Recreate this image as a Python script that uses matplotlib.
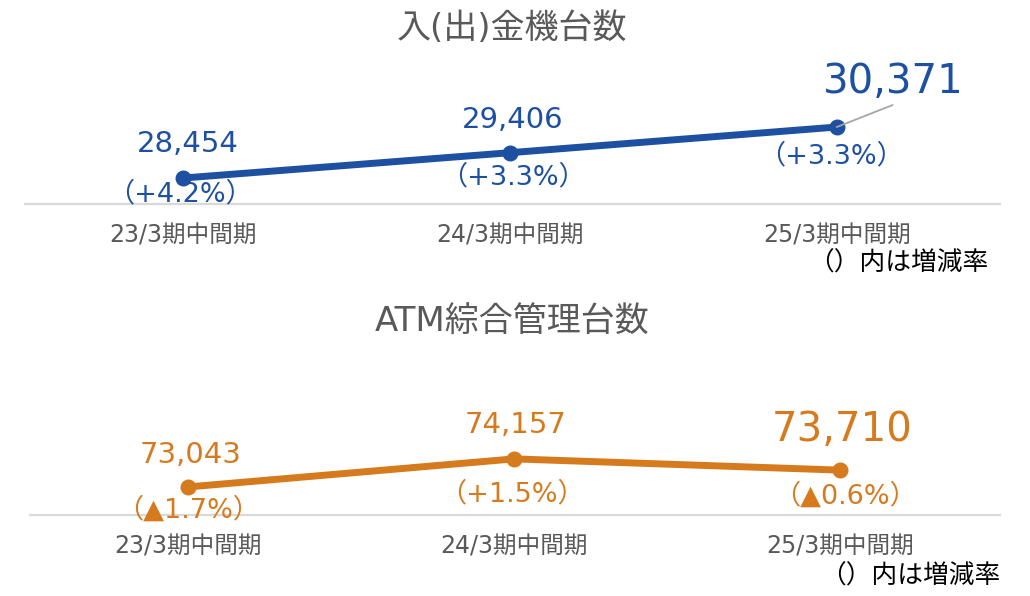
import matplotlib
matplotlib.use('Agg')
import matplotlib.pyplot as plt

plt.rcParams['font.family'] = ['DejaVu Sans', 'Noto Sans CJK JP']

# Data
periods = ['23/3期中間期', '24/3期中間期', '25/3期中間期']
deposit_units = [28454, 29406, 30371]
deposit_growth = ['（+4.2%）', '（+3.3%）', '（+3.3%）']
atm_units = [73043, 74157, 73710]
atm_growth = ['（▲1.7%）', '（+1.5%）', '（▲0.6%）']

blue = '#1E50A2'
orange = '#D67A1E'
gray_text = '#595959'
base_color = '#D9D9D9'

fig = plt.figure(figsize=(10.3, 5.96), dpi=100)

# Axes placement (figure fraction)
ax_top = fig.add_axes([25 / 1030, 1 - 204 / 596, 975 / 1030, 144 / 596])
ax_bot = fig.add_axes([30 / 1030, 1 - 515 / 596, 970 / 1030, 135 / 596])


def style_axes(ax, xlim, ylim):
    ax.set_xlim(*xlim)
    ax.set_ylim(*ylim)
    for s in ['top', 'right', 'left']:
        ax.spines[s].set_visible(False)
    ax.spines['bottom'].set_color(base_color)
    ax.spines['bottom'].set_linewidth(1.6)
    ax.set_yticks([])
    ax.set_xticks(range(len(periods)))
    ax.set_xticklabels(periods, fontsize=17, color=gray_text)
    ax.tick_params(axis='x', length=0, pad=14)
    ax.patch.set_alpha(0)


x = list(range(len(periods)))

# --- top chart: 入(出)金機台数
style_axes(ax_top, (-0.485, 2.5), (27477, 32891))
ax_top.plot(x, deposit_units, color=blue, lw=5, marker='o', ms=10.5,
            solid_capstyle='round', zorder=3)

val_offsets_top = [(4, 34), (3, 33)]
pct_offsets_top = [(-3, -16), (3, -25), (-6, -29)]
for i, v in enumerate(deposit_units[:2]):
    ax_top.annotate(f'{v:,}', (i, v), xytext=val_offsets_top[i],
                    textcoords='offset pixels', ha='center', va='center',
                    fontsize=21, color=blue)
ax_top.annotate(f'{deposit_units[2]:,}', (2, deposit_units[2]), xytext=(57, 45),
                textcoords='offset pixels', ha='center', va='center',
                fontsize=29, color=blue)
# leader line for the latest value
ax_top.annotate('', (2, deposit_units[2]), xytext=(56, 22),
                textcoords='offset pixels',
                arrowprops=dict(arrowstyle='-', color='#A6A6A6', lw=1.3,
                                shrinkA=0, shrinkB=0))
for i, v in enumerate(deposit_units):
    ax_top.annotate(deposit_growth[i], (i, v), xytext=pct_offsets_top[i],
                    textcoords='offset pixels', ha='center', va='center',
                    fontsize=19.5, color=blue)

# --- bottom chart: ATM総合管理台数
style_axes(ax_bot, (-0.485, 2.49), (71930, 77287))
ax_bot.plot(x, atm_units, color=orange, lw=5, marker='o', ms=10.5,
            solid_capstyle='round', zorder=3)

val_offsets_bot = [(2, 32), (1, 34)]
pct_offsets_bot = [(0, -23), (-2, -36), (5, -26)]
for i, v in enumerate(atm_units[:2]):
    ax_bot.annotate(f'{v:,}', (i, v), xytext=val_offsets_bot[i],
                    textcoords='offset pixels', ha='center', va='center',
                    fontsize=21, color=orange)
ax_bot.annotate(f'{atm_units[2]:,}', (2, atm_units[2]), xytext=(2, 40),
                textcoords='offset pixels', ha='center', va='center',
                fontsize=29, color=orange)
for i, v in enumerate(atm_units):
    ax_bot.annotate(atm_growth[i], (i, v), xytext=pct_offsets_bot[i],
                    textcoords='offset pixels', ha='center', va='center',
                    fontsize=19.5, color=orange)

# Titles and notes
fig.text(512 / 1030, 1 - 29 / 596, '入(出)金機台数', ha='center', va='center',
         fontsize=24.5, color=gray_text)
fig.text(512 / 1030, 1 - 322 / 596, 'ATM綜合管理台数', ha='center', va='center',
         fontsize=24.5, color=gray_text)
fig.text(988 / 1030, 1 - 264 / 596, '（）内は増減率', ha='right', va='center',
         fontsize=18.5, color='black')
fig.text(1000 / 1030, 1 - 577 / 596, '（）内は増減率', ha='right', va='center',
         fontsize=18.5, color='black')

fig.savefig('out.png', dpi=100)
